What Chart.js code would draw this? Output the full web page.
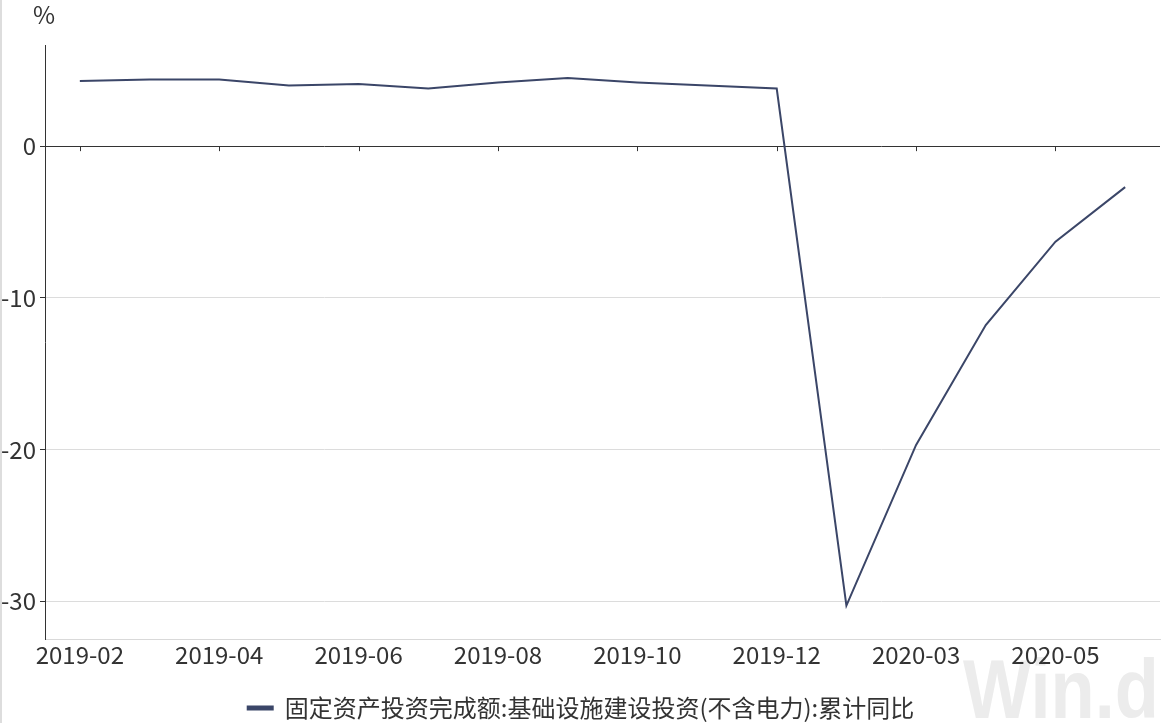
<!DOCTYPE html>
<html>
<head>
<meta charset="utf-8">
<script src="https://cdn.jsdelivr.net/npm/chart.js@4.4.1/dist/chart.umd.min.js"></script>
<style>
  html, body { margin: 0; padding: 0; background: #fff; overflow: hidden; }
  #wrap { width: 1171px; height: 730px; position: relative; border-left: 2px solid #ddd; box-sizing: border-box; }
</style>
</head>
<body>
<div id="wrap"><canvas id="mychart"></canvas></div>
<script>
const months = [
  "2019-02", "2019-03", "2019-04", "2019-05", "2019-06", "2019-07",
  "2019-08", "2019-09", "2019-10", "2019-11", "2019-12",
  "2020-02", "2020-03", "2020-04", "2020-05", "2020-06",
];
const infraYoY = [
  4.3, 4.4, 4.4, 4.0, 4.1, 3.8, 4.2, 4.5, 4.2, 4.0, 3.8,
  -30.3, -19.7, -11.8, -6.3, -2.7,
];
const yTicks = [-30, -20, -10, 0];
const seriesName = "固定资产投资完成额:基础设施建设投资(不含电力):累计同比";

const FONT = "'Noto Sans CJK SC', 'Noto Sans', sans-serif";
const LINE = "#3b4668";

// unit label, zero-line ticks and the watermark
const extras = {
  id: "extras",
  beforeDraw(chart) {
    const ctx = chart.ctx;
    ctx.save();
    ctx.translate(961, 718);
    ctx.scale(0.86, 1);
    ctx.font = "bold 84px Arial, 'Liberation Sans', sans-serif";
    ctx.fillStyle = "#ececec";
    ctx.textBaseline = "alphabetic";
    ctx.fillText("Win.d", 0, 0);
    ctx.restore();
  },
  afterDatasetsDraw(chart) {
    const ctx = chart.ctx;
    const x = chart.scales.x;
    const y0 = chart.scales.y.getPixelForValue(0);
    ctx.save();
    ctx.strokeStyle = "#333";
    ctx.lineWidth = 1;
    months.forEach((m, i) => {
      if (i % 2) return;
      const px = Math.round(x.getPixelForValue(i)) + 0.5;
      ctx.beginPath();
      ctx.moveTo(px, y0);
      ctx.lineTo(px, y0 + 5);
      ctx.stroke();
    });
    ctx.restore();
  },
  afterDraw(chart) {
    const ctx = chart.ctx;
    ctx.save();
    ctx.font = "24px " + FONT;
    ctx.fillStyle = "#333";
    ctx.textBaseline = "middle";
    ctx.fillText("%", 31, 15);
    ctx.restore();
  },
};

new Chart(document.getElementById("mychart").getContext("2d"), {
  type: "line",
  data: {
    labels: months,
    datasets: [
      {
        label: seriesName,
        data: infraYoY,
        borderColor: LINE,
        backgroundColor: LINE,
        borderWidth: 2,
        pointRadius: 0,
        tension: 0,
      },
    ],
  },
  options: {
    responsive: true,
    maintainAspectRatio: false,
    animation: false,
    layout: { padding: { top: 45, right: 11, left: 0, bottom: 0 } },
    plugins: {
      tooltip: { enabled: false },
      legend: {
        position: "bottom",
        labels: {
          font: { family: FONT, size: 24 },
          color: "#333",
          boxWidth: 25,
          boxHeight: 3,
          padding: 2,
        },
      },
    },
    scales: {
      x: {
        offset: true,
        grid: { display: false, drawTicks: false },
        border: { display: true, color: "#d9d9d9" },
        ticks: {
          autoSkip: false,
          maxRotation: 0,
          padding: 1,
          color: "#333",
          font: { family: FONT, size: 24 },
          callback: (v, i) => (i % 2 ? "" : months[i]),
        },
        afterFit: (s) => { s.height = 55; },
      },
      y: {
        min: -32.5,
        max: 6.67,
        afterBuildTicks: (s) => { s.ticks = yTicks.map((v) => ({ value: v })); },
        grid: {
          color: (c) => (c.tick && c.tick.value === 0 ? "#333" : "#dcdcdc"),
          tickColor: "#333",
          tickLength: 5,
        },
        border: { display: true, color: "#333" },
        ticks: {
          padding: 4,
          color: "#333",
          font: { family: FONT, size: 24 },
        },
        afterFit: (s) => { s.width = 43; },
      },
    },
  },
  plugins: [extras],
});
</script>
</body>
</html>
